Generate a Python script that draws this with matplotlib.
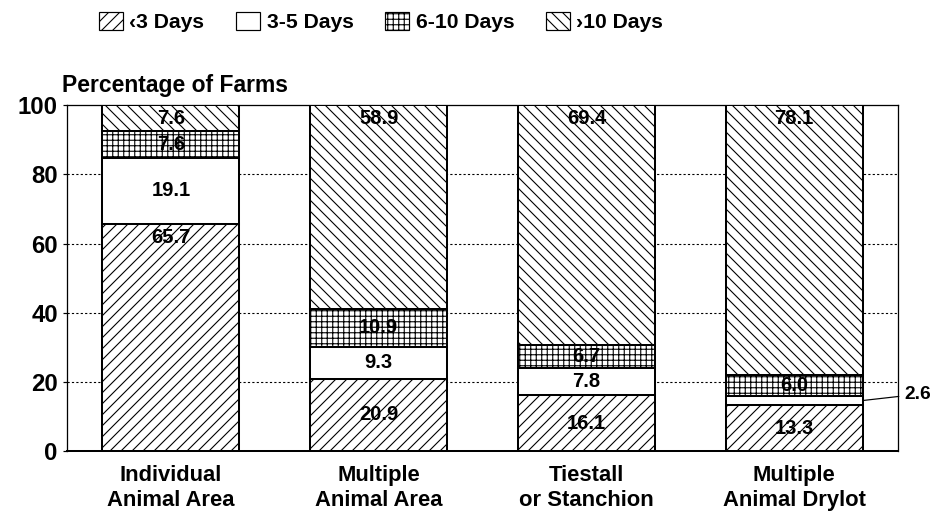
import numpy as np
import matplotlib.pyplot as plt
from matplotlib.patches import Patch

plt.rcParams['font.family'] = ['Liberation Sans', 'DejaVu Sans']
plt.rcParams['hatch.linewidth'] = 1.2

categories = ["Individual\nAnimal Area", "Multiple\nAnimal Area",
              "Tiestall\nor Stanchion", "Multiple\nAnimal Drylot"]
series_names = ["\u20393 Days", "3-5 Days", "6-10 Days", "\u203a10 Days"]
under_3 = [65.7, 20.9, 16.1, 13.3]
days_3_5 = [19.1, 9.3, 7.8, 2.6]
days_6_10 = [7.6, 10.9, 6.7, 6.0]
over_10 = [7.6, 58.9, 69.4, 78.1]
yticks = [0, 20, 40, 60, 80, 100]

hatches = ["//", "", "++", "\\\\"]

dpi = 66
fig = plt.figure(figsize=(946 / dpi, 518 / dpi), dpi=dpi)
ax = fig.add_axes([0.0708, 0.1293, 0.8785, 0.6677])

x = np.arange(len(categories))
width = 0.66
bottom = np.zeros(len(categories))
for name, vals, h in zip(series_names, [under_3, days_3_5, days_6_10, over_10], hatches):
    vals = np.array(vals)
    ax.bar(x, vals, width, bottom=bottom, color="white", edgecolor="black",
           hatch=h, lw=2.2, zorder=3, label=name)
    for xi, b, v in zip(x, bottom, vals):
        if v < 5:
            # small segment: label outside with a leader line
            ax.annotate(f"{v:.1f}", xy=(xi + width / 2, b + v / 2),
                        xytext=(xi + width / 2 + 0.2, b + v / 2 + 1.8),
                        ha="left", va="center", fontsize=21, fontweight="bold",
                        arrowprops=dict(arrowstyle="-", lw=1.3, color="black",
                                        shrinkA=4, shrinkB=0),
                        annotation_clip=False)
        else:
            ty = b + v / 2 if v < 40 else b + v - 4
            ax.text(xi, ty, f"{v:.1f}", ha="center", va="center",
                    fontsize=22, fontweight="bold", zorder=5)
    bottom += vals

for y in yticks[1:-1]:
    ax.axhline(y, color="black", lw=1.2, ls=(0, (2, 2)), zorder=1)

ax.set_xlim(-0.5, 3.5)
ax.set_ylim(0, 100)
ax.set_yticks(yticks)
ax.set_xticks(x)
ax.set_xticklabels(categories, fontsize=24, fontweight="bold", linespacing=1.25)
for lab in ax.get_yticklabels():
    lab.set_fontsize(26)
    lab.set_fontweight("bold")
ax.tick_params(axis="x", length=0, pad=15)
ax.tick_params(axis="y", length=4, width=1.3, pad=6)
for s in ax.spines.values():
    s.set_linewidth(1.4)
ax.spines["bottom"].set_linewidth(2.2)

fig.text(62 / 946, 1 - 92 / 518, "Percentage of Farms", fontsize=25,
         fontweight="bold", va="baseline", ha="left")

handles = [Patch(facecolor="white", edgecolor="black", hatch=h, lw=1.3) for h in hatches]
fig.legend(handles, series_names, loc="upper left", bbox_to_anchor=(84 / 946, 1.005),
           ncol=4, frameon=False, prop={"size": 23, "weight": "bold"},
           handlelength=1.15, handleheight=0.9, handletextpad=0.3,
           columnspacing=1.5, borderpad=0.2)

fig.savefig("out.png", dpi=dpi)
